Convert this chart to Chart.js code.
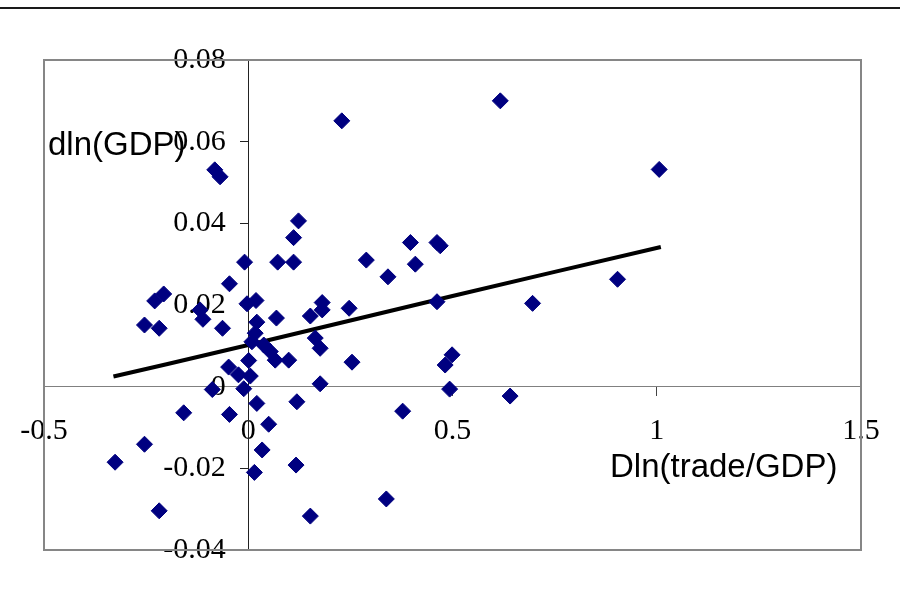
<!DOCTYPE html>
<html>
<head>
<meta charset="utf-8">
<title>dln(GDP) vs Dln(trade/GDP)</title>
<script src="https://cdn.jsdelivr.net/npm/chart.js@4/dist/chart.umd.min.js"></script>
<style>
    body { margin: 0; background: #fff; }
    canvas { display: block; }
</style>
</head>
<body>
<canvas id="scatterChart" width="900" height="599"></canvas>
<script>
// values
const tradeX = [-0.326, -0.254, -0.218, -0.254, -0.218, -0.229, -0.207, -0.158, -0.118, -0.111,
    -0.082, -0.069, -0.088, -0.063, -0.046, -0.046, -0.048, -0.024, -0.009, -0.003,
    0.019, 0.001, 0.005, -0.011, 0.021, 0.017, 0.009, 0.038, 0.021, 0.034,
    0.015, 0.050, 0.054, 0.066, 0.069, 0.072, 0.099, 0.111, 0.111, 0.123,
    0.119, 0.117, 0.152, 0.152, 0.164, 0.176, 0.176, 0.181, 0.181, 0.229,
    0.247, 0.254, 0.289, 0.338, 0.342, 0.378, 0.397, 0.409, 0.462, 0.470,
    0.462, 0.482, 0.499, 0.493, 0.617, 0.641, 0.696, 0.904, 1.006];
const gdpY = [-0.0185, -0.0141, -0.0304, 0.0151, 0.0143, 0.0210, 0.0227, -0.0064, 0.0188, 0.0165,
    0.0531, 0.0514, -0.0007, 0.0143, 0.0252, -0.0068, 0.0048, 0.0029, 0.0305, 0.0203,
    0.0211, 0.0064, 0.0026, -0.0005, 0.0158, 0.0131, 0.0110, 0.0102, -0.0041, -0.0155,
    -0.0210, -0.0092, 0.0086, 0.0065, 0.0168, 0.0305, 0.0065, 0.0305, 0.0365, 0.0406,
    -0.0037, -0.0192, 0.0173, -0.0317, 0.0119, 0.0094, 0.0007, 0.0206, 0.0188, 0.0651,
    0.0192, 0.0060, 0.0310, -0.0275, 0.0269, -0.0060, 0.0353, 0.0300, 0.0353, 0.0345,
    0.0208, 0.0053, 0.0078, -0.0006, 0.0700, -0.0023, 0.0204, 0.0263, 0.0532];

// trend line
const trendX = [-0.33, -0.2, 0, 0.25, 0.5, 0.75, 1.01];
const trendY = [0.0025, 0.0055, 0.0102, 0.0162, 0.0222, 0.0281, 0.0342];

const xTitle = 'Dln(trade/GDP)';
const yTitle = 'dln(GDP)';

const points = tradeX.map((x, i) => ({ x: x, y: gdpY[i] }));
const trend = trendX.map((x, i) => ({ x: x, y: trendY[i] }));

function fmt(v) {
    return Math.abs(v) < 1e-9 ? '0' : String(Number(v.toFixed(2)));
}

// frame, page rule and the two axis titles
const decorations = {
    id: 'decorations',
    beforeDraw(chart) {
        const ctx = chart.ctx;
        ctx.save();
        ctx.fillStyle = '#fff';
        ctx.fillRect(0, 0, chart.width, chart.height);
        ctx.strokeStyle = '#1a1a1a';
        ctx.lineWidth = 2;
        ctx.beginPath();
        ctx.moveTo(0, 8);
        ctx.lineTo(chart.width, 8);
        ctx.stroke();
        ctx.restore();
    },
    afterDraw(chart) {
        const ctx = chart.ctx;
        const a = chart.chartArea;
        ctx.save();
        ctx.strokeStyle = '#868686';
        ctx.lineWidth = 2;
        ctx.strokeRect(a.left, a.top, a.right - a.left, a.bottom - a.top);
        ctx.fillStyle = '#000';
        ctx.font = '33px "Liberation Sans", Arial, sans-serif';
        ctx.textBaseline = 'alphabetic';
        ctx.fillText(yTitle, 48, 155);
        ctx.fillText(xTitle, 610, 477);
        ctx.restore();
    }
};

const tickFont = { family: '"Liberation Serif", "Times New Roman", serif', size: 30 };

new Chart(document.getElementById('scatterChart').getContext('2d'), {
    type: 'scatter',
    data: {
        datasets: [{
            label: 'countries',
            data: points,
            pointStyle: 'rectRot',
            pointRadius: 8,
            pointBorderWidth: 1,
            backgroundColor: '#000080',
            borderColor: '#000080'
        }, {
            label: 'trend',
            data: trend,
            showLine: true,
            pointRadius: 0,
            borderColor: '#000',
            borderWidth: 4,
            tension: 0
        }]
    },
    options: {
        responsive: false,
        animation: false,
        layout: { padding: { left: 44, top: 60, right: 39, bottom: 49 } },
        plugins: {
            legend: { display: false },
            tooltip: { enabled: false }
        },
        scales: {
            x: {
                type: 'linear',
                position: { y: 0 },
                min: -0.5,
                max: 1.5,
                ticks: { stepSize: 0.5, color: '#000', font: tickFont, padding: 17, maxRotation: 0, callback: fmt },
                grid: { drawOnChartArea: false, tickLength: 9, color: '#444' },
                border: { color: '#808080', width: 1 }
            },
            y: {
                type: 'linear',
                position: { x: 0 },
                min: -0.04,
                max: 0.08,
                ticks: {
                    stepSize: 0.02,
                    color: '#000',
                    font: tickFont,
                    // a centred axis gets no label padding, so keep the gap with trailing spaces
                    callback: v => fmt(v) + '   '
                },
                grid: { drawOnChartArea: false, tickLength: 8, color: '#222' },
                border: { color: '#222', width: 1 }
            }
        }
    },
    plugins: [decorations]
});
</script>
</body>
</html>
